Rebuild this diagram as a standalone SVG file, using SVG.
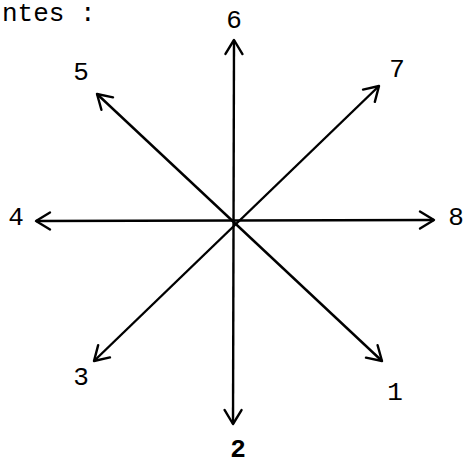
<svg xmlns="http://www.w3.org/2000/svg" width="464" height="463" viewBox="0 0 464 463">
  <style>
    .lbl { font-family: "Liberation Mono", "DejaVu Sans Mono", monospace; font-size: 26px; fill: #000; text-anchor: middle; }
    .ln { stroke: #000; stroke-width: 2.4; fill: none; marker-start: url(#ah); marker-end: url(#ah); }
  </style>
  <defs>
    <marker id="ah" markerUnits="userSpaceOnUse" viewBox="-18 -11 22 22" refX="0" refY="0" markerWidth="22" markerHeight="22" orient="auto-start-reverse" overflow="visible">
      <path d="M -14 -8.5 L 0 0 L -14 8.5" fill="none" stroke="#000" stroke-width="2.4" stroke-linecap="round" stroke-linejoin="round"/>
    </marker>
  </defs>
  <rect width="464" height="463" fill="#fff"/>
  <text class="lbl" x="2" y="21" style="text-anchor:start">ntes :</text>
  <g id="connectors">
    <line class="ln" x1="234" y1="40" x2="233" y2="424"/>
    <line class="ln" x1="36" y1="221" x2="434" y2="220"/>
    <line class="ln" x1="97" y1="94" x2="382" y2="361"/>
    <line class="ln" x1="94" y1="361" x2="379" y2="86"/>
  </g>
  <g id="n1"><text class="lbl" x="395" y="400">1</text></g>
  <g id="n2"><text class="lbl" x="238" y="457" style="font-weight:bold">2</text></g>
  <g id="n3"><text class="lbl" x="81" y="385">3</text></g>
  <g id="n4"><text class="lbl" x="16" y="225">4</text></g>
  <g id="n5"><text class="lbl" x="81" y="80">5</text></g>
  <g id="n6"><text class="lbl" x="234" y="28">6</text></g>
  <g id="n7"><text class="lbl" x="397" y="77">7</text></g>
  <g id="n8"><text class="lbl" x="456" y="225">8</text></g>
</svg>
